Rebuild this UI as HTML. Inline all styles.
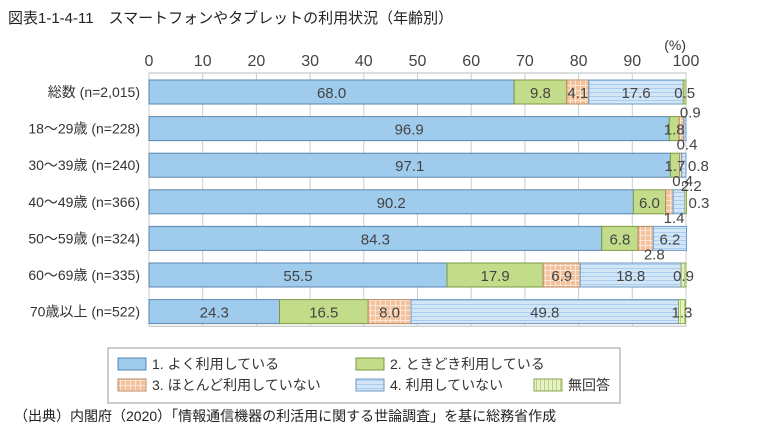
<!DOCTYPE html>
<html><head><meta charset="utf-8"><style>
body{margin:0;background:#fff;width:771px;height:441px;overflow:hidden;font-family:"Liberation Sans","Noto Sans CJK JP",sans-serif;}
svg text{font-family:"Liberation Sans","Noto Sans CJK JP",sans-serif;}
</style></head><body>
<svg id="chart" width="771" height="441" viewBox="0 0 771 441" xmlns="http://www.w3.org/2000/svg">
<defs>
<pattern id="pOrange" width="5" height="5" patternUnits="userSpaceOnUse"><rect width="5" height="5" fill="#f3c29c"/><path d="M0 0.5H5M0.5 0V5" stroke="#fbe6d6" stroke-width="1"/></pattern>
<pattern id="pBlue" width="4" height="4" patternUnits="userSpaceOnUse"><rect width="4" height="4" fill="#d3e6f7"/><path d="M0 0.5H4" stroke="#a9cdee" stroke-width="1"/></pattern>
<pattern id="pGreen" width="4" height="4" patternUnits="userSpaceOnUse"><rect width="4" height="4" fill="#e7f0c6"/><path d="M0.5 0V4" stroke="#b7d37a" stroke-width="1"/></pattern>
</defs>
<text x="8" y="23" font-size="15" fill="#222">図表1-1-4-11　スマートフォンやタブレットの利用状況（年齢別）</text>
<text x="686" y="50" font-size="14" fill="#333" text-anchor="end">(%)</text>
<g id="grid"></g><g id="bars"></g><g id="labels"></g>
<rect x="108" y="348" width="512" height="55" fill="#fff" stroke="#999" stroke-width="1"/>
<g font-size="14" fill="#333">
<rect x="118" y="358" width="28" height="12" fill="#9fcbed" stroke="#5b86b0"/><text x="152" y="369">1.  よく利用している</text>
<rect x="356" y="358" width="28" height="12" fill="#c3dc8a" stroke="#7d9a45"/><text x="390" y="369">2.  ときどき利用している</text>
<rect x="118" y="379" width="28" height="12" fill="url(#pOrange)" stroke="#b98a60"/><text x="152" y="390">3.  ほとんど利用していない</text>
<rect x="356" y="379" width="28" height="12" fill="url(#pBlue)" stroke="#6d99c4"/><text x="390" y="390">4.  利用していない</text>
<rect x="534" y="379" width="28" height="12" fill="url(#pGreen)" stroke="#8aaa50"/><text x="568" y="390">無回答</text>
</g>
<text x="14" y="421" font-size="14" fill="#222">（出典）内閣府（2020）「情報通信機器の利活用に関する世論調査」を基に総務省作成</text>
</svg>
<script>
const categories = ["総数 (n=2,015)","18～29歳 (n=228)","30～39歳 (n=240)","40～49歳 (n=366)","50～59歳 (n=324)","60～69歳 (n=335)","70歳以上 (n=522)"];
const often = [68.0,96.9,97.1,90.2,84.3,55.5,24.3];
const sometimes = [9.8,1.8,1.7,6.0,6.8,17.9,16.5];
const rarely = [4.1,0.9,0.4,1.4,2.8,6.9,8.0];
const never = [17.6,0.4,0.8,2.2,6.2,18.8,49.8];
const noAnswer = [0.5,0,0,0.3,0,0.9,1.3];
const ticks = [0,10,20,30,40,50,60,70,80,90,100];
// label placement per series: in / above / below / right / none
const placeOften = ["in","in","in","in","in","in","in"];
const placeSometimes = ["in","in","in","in","in","in","in"];
const placeRarely = ["in","above","below","below","below","in","in"];
const placeNever = ["in","below","right","above","in","in","in"];
const placeNoAnswer = ["in","none","none","right","none","in","in"];

const NS="http://www.w3.org/2000/svg";
const x0=149, x1=686, yTop=73, rowH=36.6, barH=24;
const xs=v=>x0+(x1-x0)*v/100;
const rowY=i=>yTop+7+i*rowH;
function el(t,a,p){const e=document.createElementNS(NS,t);for(const k in a)e.setAttribute(k,a[k]);document.getElementById(p).appendChild(e);return e;}
const yBottom=yTop+categories.length*rowH;
el("rect",{x:x0,y:yTop,width:x1-x0,height:yBottom-yTop-3,fill:"none",stroke:"#bbb"},"grid");
ticks.forEach(t=>{
  const l=el("line",{x1:xs(t),x2:xs(t),y1:yTop,y2:yBottom-3,stroke:"#ccc"},"grid");
  
  
  const tx=el("text",{x:xs(t),y:yTop-7,"font-size":16,fill:"#444","text-anchor":"middle"},"grid");
  tx.textContent=t;
  
  
});
const series=[[often,"#9fcbed","#5b86b0",placeOften,"often"],[sometimes,"#c3dc8a","#7d9a45",placeSometimes,"sometimes"],[rarely,"url(#pOrange)","#b98a60",placeRarely,"rarely"],[never,"url(#pBlue)","#6d99c4",placeNever,"never"],[noAnswer,"url(#pGreen)","#8aaa50",placeNoAnswer,"no-answer"]];
categories.forEach((c,i)=>{
  const y=rowY(i);
  const lab=el("text",{x:140,y:y+barH/2+5,"font-size":14,fill:"#333","text-anchor":"end"},"labels");
  lab.textContent=c;
  
  
  let acc=0;
  series.forEach(([arr,fill,stroke,place,nm])=>{
    const v=arr[i];
    const xa=xs(acc), xb=xs(acc+v);
    if(v>0){
      const r=el("rect",{x:xa,y:y,width:Math.max(xb-xa,0.8),height:barH,fill:fill,stroke:stroke,"stroke-width":1},"bars");
      
      
    }
    const p=place[i];
    if(p!=="none"){
      let tx=(xa+xb)/2, ty=y+barH/2+6, anc="middle";
      if(p==="above"){tx=xb-4;ty=y+1;anc="start";}
      if(p==="below"){tx=xb+1;ty=y+barH+9;anc="middle";}
      if(p==="right"){tx=xb+2;anc="start";}
      const t=el("text",{x:tx,y:ty,"font-size":15,fill:"#444","text-anchor":anc},"labels");
      t.textContent=v.toFixed(1);
      
      
    }
    acc+=v;
  });
});
</script>
</body></html>
